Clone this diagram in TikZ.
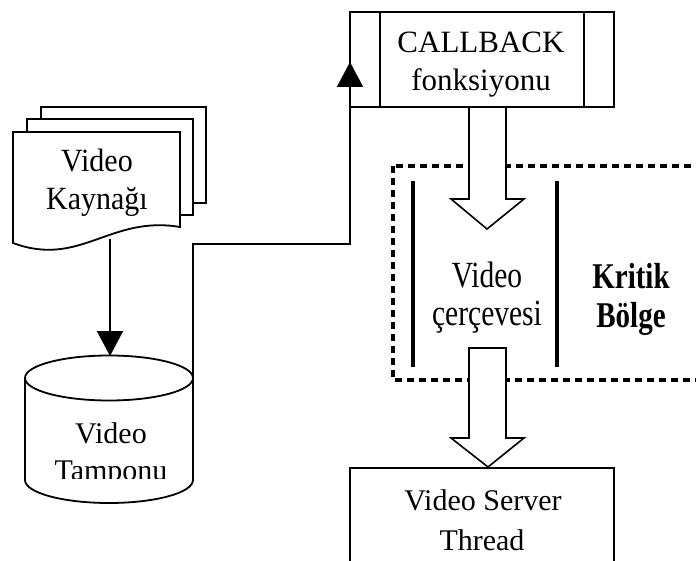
\documentclass[tikz,border=0pt]{standalone}
\usepackage{fontspec}
\setmainfont{Liberation Serif}
\usetikzlibrary{arrows.meta}
\begin{document}
\begin{tikzpicture}[x=1pt,y=-1pt,
  outline/.style={draw=black,line width=1.8pt,fill=white},
  lbl/.style={inner sep=0pt,anchor=base,font=\fontsize{30}{37}\selectfont},
  flow/.style={draw=black,line width=1.8pt,-{Triangle[length=25pt,width=26pt]}},
  fatarrow/.style={draw=black,line width=1.6pt,fill=white},
  region/.style={draw=black,line width=3.5pt,dash pattern=on 7pt off 5pt},
  guard/.style={draw=black,line width=4pt}]
\newcommand{\talltext}[1]{\scalebox{1}[1.25]{#1}}
\clip (0,0) rectangle (696,561);
\fill[white] (0,0) rectangle (696,561);

% critical region frame and its two guard bars
\draw[region] (393,166) rectangle (730,380);
\draw[guard] (413,181) -- (413,367);
\draw[guard] (557,181) -- (557,367);

% callback process box
\node[outline,minimum width=264pt,minimum height=95pt,inner sep=0pt] (cb) at (482,59.5) {};
\draw[line width=1.8pt] ([xshift=31pt]cb.north west) -- ([xshift=31pt]cb.south west);
\draw[line width=1.8pt] ([xshift=-31pt]cb.north east) -- ([xshift=-31pt]cb.south east);
\node[lbl,font=\fontsize{31}{37}\selectfont] (cbA) at (481,53) {CALLBACK};
\node[lbl,font=\fontsize{31}{37}\selectfont] (cbB) at (481,91) {fonksiyonu};

% stacked documents
\draw[outline] (41,107) rectangle (206,203);
\draw[outline] (27,119) rectangle (193,215);
\draw[outline] (13,132) -- (180,132) -- (180,227)
  .. controls (110,215) and (80,268) .. (13,243) -- cycle;
\coordinate (docout) at (110,239);
\node[lbl] (docA) at (97,172) {\scalebox{1}[1.08]{Video}};
\node[lbl] (docB) at (97,210) {\scalebox{1}[1.08]{Kaynağı}};

% buffer cylinder
\draw[outline] (25,378) -- (25,480) arc[start angle=180,end angle=360,x radius=84pt,y radius=23pt]
  -- (193,378);
\draw[outline] (109,378) ellipse[x radius=84pt,y radius=22.5pt];
\coordinate (cyltop) at (110,356);
\coordinate (cylside) at (193,428);
\node[lbl] (cylA) at (111,443) {Video};
\begin{scope}
  \clip (25,440) rectangle (193,478);
  \node[lbl] (cylB) at (111,480) {Tamponu};
\end{scope}

% connectors
\draw[flow] (docout) -- (cyltop);
\coordinate (bendA) at (193,244);
\coordinate (bendB) at (350,244);
\coordinate (cbin) at (350,62);
\draw[flow] (cylside) -- (bendA) -- (bendB) -- (cbin);

% hollow block arrows
\draw[fatarrow] (469,107) -- (469,199) -- (451,199) -- (487,229) -- (524,199) -- (506,199) -- (506,107) -- cycle;
\draw[fatarrow] (469,348) -- (469,438) -- (451,438) -- (488,467) -- (524,438) -- (506,438) -- (506,348) -- cycle;

% frame label
\node[lbl,font=\fontsize{29.5}{37}\selectfont] (frA) at (487,288) {\talltext{Video}};
\node[lbl,font=\fontsize{29.5}{37}\selectfont] (frB) at (487,325) {\talltext{çerçevesi}};
\node[lbl,font=\fontsize{29}{37}\selectfont\bfseries] (krA) at (631,289) {\talltext{Kritik}};
\node[lbl,font=\fontsize{29}{37}\selectfont\bfseries] (krB) at (631,327) {\talltext{Bölge}};

% server thread box
\draw[outline] (350,468) rectangle (614,580);
\node[lbl] (stA) at (483,510) {Video Server};
\node[lbl] (stB) at (482,550) {Thread};
\end{tikzpicture}
\end{document}
